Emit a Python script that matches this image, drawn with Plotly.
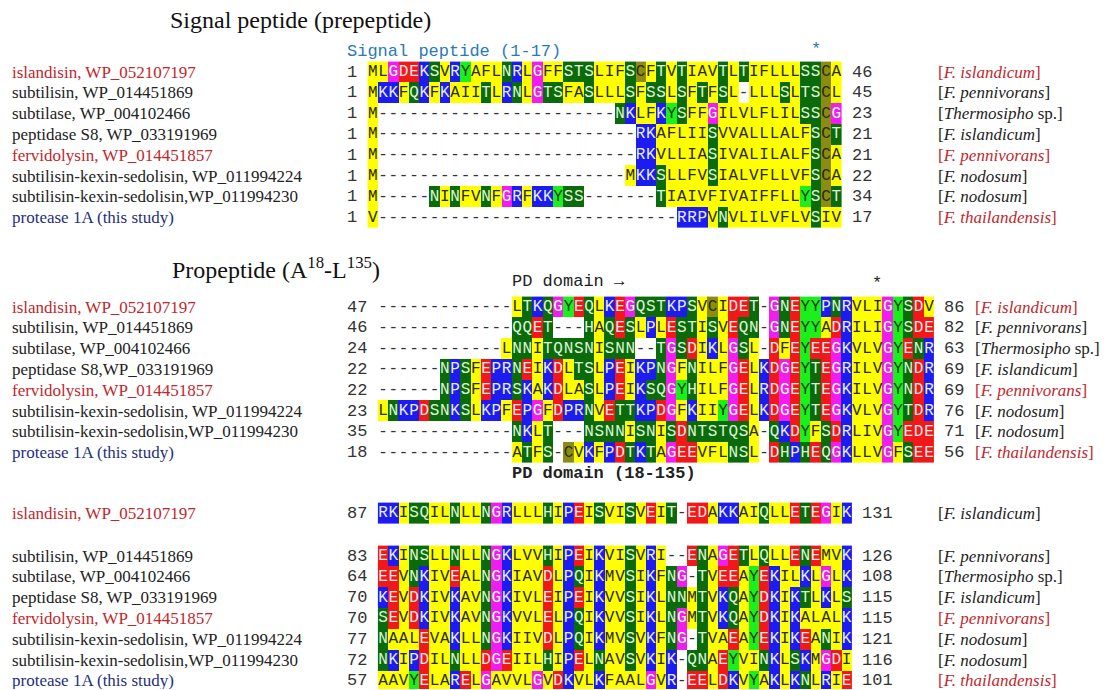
import plotly.graph_objects as go

# ---------------- data ----------------
names_b1 = ["islandisin, WP_052107197", "subtilisin, WP_014451869", "subtilase, WP_004102466",
            "peptidase S8, WP_033191969", "fervidolysin, WP_014451857",
            "subtilisin-kexin-sedolisin, WP_011994224", "subtilisin-kexin-sedolisin,WP_011994230",
            "protease 1A (this study)"]
names_b2 = ["islandisin, WP_052107197", "subtilisin, WP_014451869", "subtilase, WP_004102466",
            "peptidase S8,WP_033191969", "fervidolysin, WP_014451857",
            "subtilisin-kexin-sedolisin, WP_011994224", "subtilisin-kexin-sedolisin,WP_011994230",
            "protease 1A (this study)"]
names_b3 = names_b1

species = ["[<i>F. islandicum</i>]", "[<i>F. pennivorans</i>]", "[<i>Thermosipho</i> sp.]",
           "[<i>F. islandicum</i>]", "[<i>F. pennivorans</i>]", "[<i>F. nodosum</i>]",
           "[<i>F. nodosum</i>]", "[<i>F. thailandensis</i>]"]

seq_b1 = [
    "MLGDEKSVRYAFLNRLGFFSTSLIFSCFTVTIAVTLTIFLLLSSCA",
    "MKKFQKFKAIITLRNLGTSFASLLLSFSSLSFTFSL-LLLSLTSCL",
    "M" + "-" * 23 + "NKLFKYSFFGILVLFLILSSCG",
    "M" + "-" * 25 + "RKAFLIISVVALLLALFSCT",
    "M" + "-" * 25 + "RKVLLIASIVALILALFSCA",
    "M" + "-" * 24 + "MKKSLLFVSIALVFLLVFSCA",
    "M-----NINFVNFGRFKKYSS-------TIAIVFIVAIFFLLYSCT",
    "V" + "-" * 29 + "RRPVNVLILVFLVSIV",
]
start_b1 = [1, 1, 1, 1, 1, 1, 1, 1]
end_b1 = [46, 45, 23, 21, 21, 22, 34, 17]

seq_b2 = [
    "-" * 13 + "LTKQGYEQLKEGQSTKPSVCIDET-GNEYYPNRVLIGYSDV",
    "-" * 13 + "QQET---HAQESLPLESTISVEQN-GNEYYADRILIGYSDE",
    "-" * 12 + "LNNITQNSNISNN--TGSDIKLGSL-DFEYEEGKVLVGYENR",
    "-" * 6 + "NPSFEPRNEIKDLTSLPEIKPNGFNILFGELKDGEYTEGRILVGYNDR",
    "-" * 6 + "NPSFEPRSKAKDLASLPEIKSQGYHILFGELRDGEYTEGKILVGYNDR",
    "LNKPDSNKSLKPFEPGFDPRNVETTKPDGFKIIYGELKDGEYTEGKVLVGYTDR",
    "-" * 13 + "NKLT---NSNNISNISDNTSTQSA-QKDYFSDRLIVGYEDE",
    "-" * 13 + "ATFS-CVKFPDTKTAGEEVFLNSL-DHPHEQGKLLVGFSEE",
]
start_b2 = [47, 46, 24, 22, 22, 23, 35, 18]
end_b2 = [86, 82, 63, 69, 69, 76, 71, 56]

seq_b3 = [
    "RKISQILNLLNGRLLLHIPEISVISVEIT-EDAKKAIQLLETEGIK",
    "EKINSLLNLLNGKLVVHIPEIKVISVRI--ENAGETLQLLENEMVK",
    "EEVNKIVEALNGKIAVDLPQIKMVSIKFNG-TVEEAYEKILKLGLK",
    "KEVDKIVKAVNGKIVLEIPEIKVVSIKLNNMTVKQAYDKIKTLKLS",
    "SEVDKIVKAVNGKVVLELPQIKVVSIKLNGMTVKQAYDKIKALALK",
    "NAALEVAKLLNGKIIVDLPQIKMVSVKFNG-TVAEAYEKIKEANIK",
    "NKIPDILNLLDGEIILHIPELNAVSVKIK-QNAEYVINKLSKMGDI",
    "AAVYELARELGAVVLGVDKVLKFAALGVR-EELDKVYAKLKNLRIE",
]
start_b3 = [87, 83, 64, 70, 70, 77, 72, 57]
end_b3 = [131, 126, 108, 115, 115, 121, 116, 101]

# residue classes -> colours
class_members = ["-", "AVLIMFW", "STNQH", "KRP", "DE", "G", "Y", "C"]
class_bg = ["#ffffff", "#ffff00", "#0b6b0b", "#1c1cf0", "#f01818", "#f01cf0", "#1cf01c", "#8c8c14"]
class_fg = ["#333333", "#2a2a00", "#dff5d8", "#e6ecff", "#ffe8e8", "#ffffff", "#0a3a0a", "#2a2a00"]

# ---------------- layout constants ----------------
W, H = 1109, 690
OFF = 8            # page body margin of the html page
CW = 10.3          # character width
RH = 20.8          # row height
X_NUM = 347        # left edge of start numbers
X_NAME = 10
RED = "#c0272d"
NAVY = "#1f2f7a"
BLACK = "#222222"
MONO = "Liberation Mono"
SERIF = "Liberation Serif"

code_of = {}
for i, members in enumerate(class_members):
    for aa in members:
        code_of[aa] = i

n_cls = len(class_bg)
colorscale = []
for i, c in enumerate(class_bg):
    colorscale.append([i / n_cls, c])
    colorscale.append([(i + 1) / n_cls, c])

blocks = [
    dict(seqs=seq_b1, names=names_b1, starts=start_b1, ends=end_b1, num_w=1,
         segments=[(list(range(8)), 72)], species_x=936, species_red=[0, 4, 7]),
    dict(seqs=seq_b2, names=names_b2, starts=start_b2, ends=end_b2, num_w=2,
         segments=[(list(range(8)), 307)], species_x=973, species_red=[0, 4, 7]),
    dict(seqs=seq_b3, names=names_b3, starts=start_b3, ends=end_b3, num_w=2,
         segments=[([0], 513), (list(range(1, 8)), 556)], species_x=936, species_red=[4, 7]),
]

name_color = [RED, BLACK, BLACK, BLACK, RED, BLACK, BLACK, NAVY]

fig = go.Figure()
annotations = []
text_groups = {i: ([], [], []) for i in range(n_cls)}

for b in blocks:
    col0 = X_NUM + (b["num_w"] + 1 + 0.5) * CW
    ncols = len(b["seqs"][0])
    b["col0"] = col0
    for rows, y0 in b["segments"]:
        z = [[code_of[ch] for ch in b["seqs"][r]] for r in rows]
        fig.add_trace(go.Heatmap(z=z, x0=col0, dx=CW, y0=y0, dy=RH,
                                 colorscale=colorscale, zmin=-0.5, zmax=n_cls - 0.5,
                                 showscale=False, hoverinfo="skip", zsmooth=False))
        for k, r in enumerate(rows):
            y = y0 + k * RH
            for c, ch in enumerate(b["seqs"][r]):
                g = text_groups[code_of[ch]]
                g[0].append(col0 + c * CW)
                g[1].append(y)
                g[2].append(ch)
            annotations.append(dict(x=X_NAME, y=y, text=b["names"][r], xanchor="left", yanchor="middle",
                                    showarrow=False, font=dict(family=SERIF, size=17, color=name_color[r])))
            annotations.append(dict(x=X_NUM - 2, y=y, text=str(b["starts"][r]), xanchor="left", yanchor="middle",
                                    showarrow=False, font=dict(family=MONO, size=17, color="#333333")))
            x_end = X_NUM + (b["num_w"] + 1 + ncols + 1) * CW - 2
            annotations.append(dict(x=x_end, y=y, text=str(b["ends"][r]), xanchor="left", yanchor="middle",
                                    showarrow=False, font=dict(family=MONO, size=17, color="#333333")))
            sc = RED if r in b["species_red"] else BLACK
            annotations.append(dict(x=b["species_x"], y=y, text=species[r], xanchor="left", yanchor="middle",
                                    showarrow=False, font=dict(family=SERIF, size=17, color=sc)))

for i in range(n_cls):
    xs, ys, ts = text_groups[i]
    if xs:
        fig.add_trace(go.Scatter(x=xs, y=ys, text=ts, mode="text", textposition="middle center",
                                 textfont=dict(family=MONO, size=16, color=class_fg[i]),
                                 hoverinfo="skip", showlegend=False))

b1, b2, b3 = blocks
annotations.append(dict(x=168, y=20, text="Signal peptide (prepeptide)", xanchor="left", yanchor="middle",
                        showarrow=False, font=dict(family=SERIF, size=24, color="#111111")))
annotations.append(dict(x=170, y=268, text="Propeptide (A<sup>18</sup>-L<sup>135</sup>)", xanchor="left",
                        yanchor="middle", showarrow=False, font=dict(family=SERIF, size=24, color="#111111")))
annotations.append(dict(x=X_NUM - 2, y=51, text="Signal peptide (1-17)", xanchor="left", yanchor="middle",
                        showarrow=False, font=dict(family=MONO, size=17, color="#2a7ab8")))
annotations.append(dict(x=b1["col0"] + 43 * CW, y=49, text="*", xanchor="center", yanchor="middle",
                        showarrow=False, font=dict(family=MONO, size=17, color="#2a7ab8")))
annotations.append(dict(x=b2["col0"] + 12.5 * CW - 2, y=281, text="PD domain \u2192", xanchor="left",
                        yanchor="middle", showarrow=False, font=dict(family=MONO, size=17, color="#222222")))
annotations.append(dict(x=b2["col0"] + 48 * CW, y=283, text="*", xanchor="center", yanchor="middle",
                        showarrow=False, font=dict(family=MONO, size=17, color="#222222")))
annotations.append(dict(x=b2["col0"] + 12.5 * CW - 2, y=473, text="<b>PD domain (18-135)</b>", xanchor="left",
                        yanchor="middle", showarrow=False, font=dict(family=MONO, size=17, color="#222222")))

fig.update_layout(
    width=W - OFF - 1, height=H - OFF - 1, margin=dict(l=0, r=0, t=0, b=0),
    paper_bgcolor="white", plot_bgcolor="white",
    xaxis=dict(range=[OFF, W - 1], visible=False, fixedrange=True),
    yaxis=dict(range=[H - 1, OFF], visible=False, fixedrange=True),
    annotations=annotations, showlegend=False,
)
fig.write_html("out.html")
